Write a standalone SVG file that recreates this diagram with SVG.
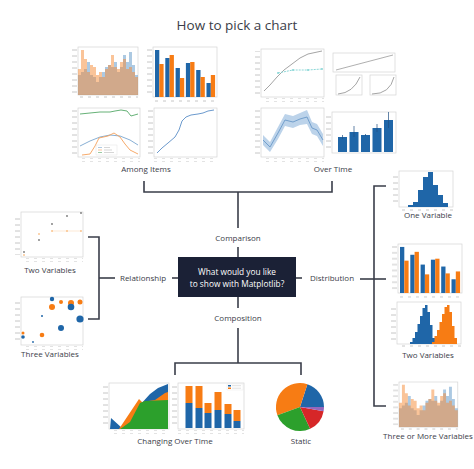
<svg xmlns="http://www.w3.org/2000/svg" xmlns:xlink="http://www.w3.org/1999/xlink" width="474" height="469" viewBox="0 0 474 469">
<style>
.t{font-family:"Open Sans","DejaVu Sans",sans-serif;font-size:8px;fill:#3b3d48;text-anchor:middle}
.title{font-size:13.5px}
.w{fill:#ffffff;font-size:8.3px}
.c{fill:none;stroke:#3a3e4a;stroke-width:1.6}
.fr{fill:#ffffff;stroke:#d4d4d4;stroke-width:0.7}
.bl{fill:#1f66a8}
.or{fill:#f77c14}
.ln{fill:none;stroke-width:0.9}
</style>
<defs>
<pattern id="yt" patternUnits="userSpaceOnUse" width="4" height="6"><line x1="0" y1="3" x2="4" y2="3" stroke="#b8b8b8" stroke-width="0.8"/></pattern>
<pattern id="xt" patternUnits="userSpaceOnUse" width="8" height="4"><line x1="2" y1="2" x2="5" y2="2" stroke="#b8b8b8" stroke-width="0.8"/></pattern>
<g id="grouped">
<rect class="fr" x="0" y="0" width="64" height="50"/>
<rect x="-6" y="2" width="5" height="46" fill="url(#yt)"/>
<rect x="0" y="51" width="64" height="4" fill="url(#xt)"/>
<g class="bl"><rect x="2" y="3" width="4.3" height="47"/><rect x="12.3" y="11" width="4.3" height="39"/><rect x="22.6" y="21" width="4.3" height="29"/><rect x="32.9" y="16" width="4.3" height="34"/><rect x="43.2" y="23" width="4.3" height="27"/><rect x="53.5" y="36" width="4.3" height="14"/></g>
<g class="or"><rect x="6.3" y="17" width="4.3" height="33"/><rect x="16.6" y="8" width="4.3" height="42"/><rect x="26.9" y="31" width="4.3" height="19"/><rect x="37.2" y="15" width="4.3" height="35"/><rect x="47.5" y="30" width="4.3" height="20"/><rect x="57.8" y="28" width="4.3" height="22"/></g>
</g>
<g id="overlap">
<rect class="fr" x="0" y="0" width="60" height="48"/>
<rect x="-6" y="2" width="5" height="44" fill="url(#yt)"/>
<rect x="0" y="49" width="60" height="4" fill="url(#xt)"/>
<path fill="#5a93c6" fill-opacity="0.5" d="M0,48 V28 H3 V25 H6 V22 H9 V15 H12 V28 H15 V30 H18 V35 H21 V30 H24 V25 H27 V20 H30 V18 H33 V20 H36 V15 H39 V25 H42 V20 H45 V8 H48 V15 H51 V5 H54 V18 H57 V28 H60 V48 Z"/>
<path fill="#f68a34" fill-opacity="0.5" d="M0,48 V22 H3 V3 H6 V12 H9 V25 H12 V18 H15 V20 H18 V28 H21 V25 H24 V30 H27 V22 H30 V18 H33 V8 H36 V20 H39 V22 H42 V15 H45 V12 H48 V22 H51 V20 H54 V25 H57 V30 H60 V48 Z"/>
</g>
</defs>

<text class="t title" x="237" y="30">How to pick a chart</text>

<g id="connectors">
<path class="c" d="M144,181 V192 H332 V181"/>
<path class="c" d="M238,192 V228"/>
<path class="c" d="M238,247 V257"/>
<path class="c" d="M172,278 H178"/>
<path class="c" d="M296,278 H302"/>
<path class="c" d="M115,278 H99"/>
<path class="c" d="M88,237 H99 V319 H88"/>
<path class="c" d="M360,279 H386"/>
<path class="c" d="M386,186 H374 V406 H386"/>
<path class="c" d="M238,297 V308"/>
<path class="c" d="M238,328 V363"/>
<path class="c" d="M175,375 V363 H301 V375"/>
</g>

<g id="center-question">
<rect x="178" y="257" width="118" height="40" fill="#1b2136"/>
<text class="t w" x="237" y="275">What would you like</text>
<text class="t w" x="237" y="287">to show with Matplotlib?</text>
</g>

<g id="label-comparison"><text class="t" x="238" y="241">Comparison</text></g>
<g id="label-relationship"><text class="t" x="143" y="281">Relationship</text></g>
<g id="label-distribution"><text class="t" x="332" y="281">Distribution</text></g>
<g id="label-composition"><text class="t" x="238" y="321">Composition</text></g>

<g id="among-items">
<use xlink:href="#overlap" transform="translate(78,47)"/>
<use xlink:href="#grouped" transform="translate(153,47)"/>
<rect class="fr" x="78" y="108" width="62" height="49"/>
<rect x="72" y="110" width="5" height="45" fill="url(#yt)"/>
<rect x="78" y="158" width="62" height="4" fill="url(#xt)"/>
<polyline class="ln" stroke="#55a868" points="80,114 90,113 100,112 110,112 115,111 121,110 127,111 131,116 138,114"/>
<polyline class="ln" stroke="#7aa6cf" points="80,146 90,141 100,137 110,135 120,136 130,140 138,145"/>
<polyline class="ln" stroke="#f5a05a" points="82,155 90,154 95,146 99,138 108,136 114,133 120,137 125,144 130,150 138,154"/>
<rect x="96" y="145" width="21" height="10" fill="#fff" stroke="#ddd" stroke-width="0.4"/>
<g stroke-width="0.6"><line x1="98" y1="147.5" x2="102" y2="147.5" stroke="#7aa6cf"/><line x1="98" y1="150" x2="102" y2="150" stroke="#f5a05a"/><line x1="98" y1="152.5" x2="102" y2="152.5" stroke="#55a868"/><line x1="104" y1="147.5" x2="110" y2="147.5" stroke="#bbb"/><line x1="104" y1="150" x2="112" y2="150" stroke="#bbb"/><line x1="104" y1="152.5" x2="114" y2="152.5" stroke="#bbb"/></g>
<rect class="fr" x="154" y="108" width="63" height="49"/>
<rect x="148" y="110" width="5" height="45" fill="url(#yt)"/>
<rect x="154" y="158" width="63" height="4" fill="url(#xt)"/>
<polyline class="ln" stroke="#5b8fc7" points="157,153 162,148 168,143 175,137 179,130 182,121 186,117 191,115 198,114 203,113 208,111 214,110"/>
<text class="t" x="146" y="172">Among Items</text>
</g>

<g id="over-time">
<rect class="fr" x="261" y="49" width="63" height="48"/>
<rect x="255" y="51" width="5" height="44" fill="url(#yt)"/>
<rect x="261" y="98" width="63" height="4" fill="url(#xt)"/>
<polyline class="ln" stroke="#9a9a9a" points="264,91 270,85 277,77 284,70 292,64 300,58 308,54 322,51"/>
<polyline class="ln" stroke="#7fd3d3" stroke-dasharray="2,1" points="278,73 293,70 308,70 322,69"/>
<g fill="#7fd3d3"><circle cx="278" cy="73" r="0.9"/><circle cx="293" cy="70" r="0.9"/><circle cx="308" cy="70" r="0.9"/><circle cx="322" cy="69" r="0.9"/></g>
<rect class="fr" x="333" y="53" width="62" height="19"/>
<line x1="336" y1="70" x2="393" y2="55" stroke="#9a9a9a" stroke-width="0.8"/>
<rect class="fr" x="336" y="75" width="26" height="20"/>
<path class="ln" stroke="#9a9a9a" d="M338,94 Q353,93 360,77"/>
<rect class="fr" x="370" y="75" width="26" height="20"/>
<path class="ln" stroke="#9a9a9a" d="M372,94 Q390,94 394,77"/>
<rect class="fr" x="261" y="108" width="63" height="49"/>
<rect x="255" y="110" width="5" height="45" fill="url(#yt)"/>
<rect x="261" y="158" width="63" height="4" fill="url(#xt)"/>
<path fill="#bcd3ea" d="M263,135 L270,142 L278,127 L285,114 L293,116 L300,113 L307,110 L312,122 L317,124 L323,134 L323,146 L317,136 L312,134 L307,124 L300,125 L293,128 L285,126 L278,139 L270,152 L263,145 Z"/>
<polyline class="ln" stroke="#6a98c8" points="263,140 270,147 278,133 285,120 293,122 300,119 307,117 312,128 317,130 323,140"/>
<rect class="fr" x="332" y="112" width="64" height="41"/>
<rect x="326" y="114" width="5" height="37" fill="url(#yt)"/>
<g class="bl"><rect x="338" y="137" width="9" height="15"/><rect x="349.5" y="132" width="9" height="20"/><rect x="361" y="135" width="9" height="17"/><rect x="372.5" y="128" width="9" height="24"/><rect x="384" y="120" width="9" height="32"/></g>
<g stroke="#1f4f82" stroke-width="0.7"><line x1="342.5" y1="135" x2="342.5" y2="139"/><line x1="354" y1="126" x2="354" y2="137"/><line x1="365.5" y1="134" x2="365.5" y2="136"/><line x1="377" y1="124" x2="377" y2="132"/><line x1="388.5" y1="112" x2="388.5" y2="128"/></g>
<text class="t" x="333" y="172">Over Time</text>
</g>

<g id="relationship-two">
<rect class="fr" x="21" y="212" width="62" height="45"/>
<rect x="15" y="214" width="5" height="41" fill="url(#yt)"/>
<rect x="21" y="258" width="62" height="4" fill="url(#xt)"/>
<line x1="52" y1="231" x2="81" y2="231" stroke="#fbd3a8" stroke-width="0.5"/>
<g fill="#777"><circle cx="24" cy="252" r="0.9"/><circle cx="39" cy="240" r="0.9"/><circle cx="52" cy="224" r="0.9"/><circle cx="67" cy="216" r="0.9"/><circle cx="81" cy="213" r="0.9"/></g>
<g fill="#f7a04a"><circle cx="24" cy="255" r="0.8"/><circle cx="39" cy="234" r="0.8"/><circle cx="52" cy="231" r="0.8"/><circle cx="67" cy="231" r="0.8"/><circle cx="81" cy="231" r="0.8"/></g>
<text class="t" x="50" y="273">Two Variables</text>
</g>

<g id="relationship-three">
<rect class="fr" x="21" y="297" width="62" height="48"/>
<rect x="15" y="299" width="5" height="44" fill="url(#yt)"/>
<rect x="21" y="346" width="62" height="4" fill="url(#xt)"/>
<g class="or"><circle cx="52" cy="307" r="3"/><circle cx="61" cy="302" r="2"/><circle cx="71" cy="303" r="3"/><circle cx="80" cy="302" r="2.5"/><circle cx="42" cy="335" r="2.3"/><circle cx="23" cy="333" r="1.5"/></g>
<g class="bl"><circle cx="52" cy="299" r="2.2"/><circle cx="71" cy="307" r="3.3"/><circle cx="80" cy="319" r="3.6"/><circle cx="61" cy="328" r="3"/><circle cx="42" cy="316" r="1"/><circle cx="23" cy="337" r="1.8"/><circle cx="33" cy="342" r="0.9"/></g>
<text class="t" x="50" y="357">Three Variables</text>
</g>

<g id="distribution-one">
<rect class="fr" x="399" y="171" width="54" height="36"/>
<rect x="393" y="173" width="5" height="32" fill="url(#yt)"/>
<rect x="399" y="208" width="54" height="4" fill="url(#xt)"/>
<path class="bl" d="M408,207 V205 H413 V202 H418 V190 H423 V177 H428 V172 H433 V185 H438 V195 H443 V203 H448 V207 Z"/>
<text class="t" x="428" y="218">One Variable</text>
</g>

<g id="distribution-bars">
<use xlink:href="#grouped" transform="translate(398,244) scale(1,0.98)"/>
</g>

<g id="distribution-two">
<rect class="fr" x="397" y="302" width="64" height="42"/>
<rect x="391" y="304" width="5" height="38" fill="url(#yt)"/>
<rect x="397" y="345" width="64" height="4" fill="url(#xt)"/>
<path class="bl" d="M410,344 V342 H412.5 V338 H415 V332 H417.5 V324 H420 V316 H422.5 V308 H425 V305 H427.5 V312 H430 V325 H432.5 V338 H435 V344 Z"/>
<path class="or" d="M432,344 V342 H434.5 V336 H437 V330 H439.5 V322 H442 V314 H444.5 V307 H447 V305 H449.5 V312 H452 V326 H454.5 V338 H457 V344 Z"/>
<text class="t" x="428" y="358">Two Variables</text>
</g>

<g id="distribution-three">
<use xlink:href="#overlap" transform="translate(399,382) scale(0.98,0.94)"/>
<text class="t" x="428" y="439" font-size="7">Three or More Variables</text>
</g>

<g id="composition-changing">
<rect class="fr" x="109" y="383" width="60" height="46"/>
<rect x="103" y="385" width="5" height="42" fill="url(#yt)"/>
<rect x="109" y="430" width="60" height="4" fill="url(#xt)"/>
<path class="bl" d="M110,429 L111,418 L122,428 L140,405 L150,394 L158,388 L168,384 L168,429 Z"/>
<path class="or" d="M119,429 L125,420 L133,408 L139,399 L142,402 L155,400 L165,393 L168,392 L168,429 Z"/>
<path fill="#2ca02c" d="M120,429 L123,427 L130,422 L140,403 L145,401 L168,400 L168,429 Z"/>
<rect class="fr" x="178" y="383" width="66" height="46"/>
<rect x="172" y="385" width="5" height="42" fill="url(#yt)"/>
<rect x="178" y="430" width="66" height="4" fill="url(#xt)"/>
<g class="or"><rect x="185.5" y="386" width="7" height="17"/><rect x="195.5" y="386" width="7" height="22"/><rect x="204.5" y="403" width="7" height="10"/><rect x="214.5" y="392" width="7" height="18"/><rect x="224.5" y="404" width="7" height="10"/><rect x="233.5" y="410" width="7" height="11"/></g>
<g class="bl"><rect x="185.5" y="403" width="7" height="25"/><rect x="195.5" y="408" width="7" height="20"/><rect x="204.5" y="413" width="7" height="15"/><rect x="214.5" y="410" width="7" height="18"/><rect x="224.5" y="414" width="7" height="14"/><rect x="233.5" y="421" width="7" height="7"/></g>
<rect x="227" y="384" width="16" height="6" fill="#fff" stroke="#ddd" stroke-width="0.3"/>
<rect x="228" y="385" width="3" height="1.5" class="bl"/><rect x="228" y="387.5" width="3" height="1.5" class="or"/>
<line x1="232" y1="385.7" x2="241" y2="385.7" stroke="#ccc" stroke-width="0.6"/><line x1="232" y1="388.2" x2="241" y2="388.2" stroke="#ccc" stroke-width="0.6"/>
<text class="t" x="175" y="444">Changing Over Time</text>
</g>

<g id="composition-static">
<path class="bl" d="M300,407 L324,407 A24,24 0 0 0 307.4,384.2 Z"/>
<path class="or" d="M300,407 L307.4,384.2 A24,24 0 0 0 277.4,415.2 Z"/>
<path fill="#2ca02c" d="M300,407 L277.4,415.2 A24,24 0 0 0 310.1,428.8 Z"/>
<path fill="#d62728" d="M300,407 L310.1,428.8 A24,24 0 0 0 323.6,411.2 Z"/>
<path fill="#9467bd" d="M300,407 L323.6,411.2 A24,24 0 0 0 324,407 Z"/>
<text class="t" x="301" y="444">Static</text>
</g>
</svg>
